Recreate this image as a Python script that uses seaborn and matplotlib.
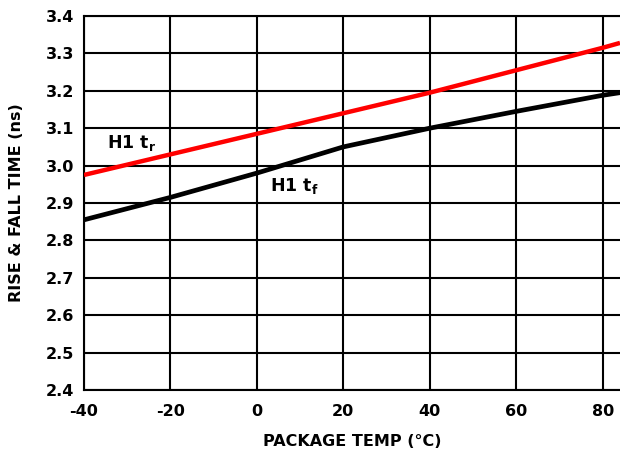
import numpy as np
import pandas as pd
import seaborn as sns
import matplotlib
matplotlib.use("Agg")
import matplotlib.pyplot as plt

# values
temp_rise = [-40, -20, 0, 20, 40, 60, 80, 84]
rise_ns = [2.975, 3.03, 3.085, 3.14, 3.195, 3.255, 3.315, 3.328]

temp_fall = [-40, -20, 0, 20, 40, 60, 80, 84]
fall_ns = [2.855, 2.915, 2.98, 3.05, 3.10, 3.145, 3.188, 3.195]

x_ticks = [-40, -20, 0, 20, 40, 60, 80]
y_ticks = [2.4, 2.5, 2.6, 2.7, 2.8, 2.9, 3.0, 3.1, 3.2, 3.3, 3.4]

sns.set_style("white")
plt.rcParams['font.family'] = ['DejaVu Sans']
plt.rcParams['mathtext.fontset'] = 'dejavusans'
plt.rcParams['text.color'] = 'black'
plt.rcParams['axes.labelcolor'] = 'black'
plt.rcParams['xtick.color'] = 'black'
plt.rcParams['ytick.color'] = 'black'

rise = pd.DataFrame({"temp": temp_rise, "t": rise_ns})
fall = pd.DataFrame({"temp": temp_fall, "t": fall_ns})

fig = plt.figure(figsize=(6.2, 4.49), dpi=100)
ax = fig.add_axes([0.1355, 0.1314, 0.8645, 0.833])

sns.lineplot(data=fall, x="temp", y="t", ax=ax, color="black", linewidth=3.4,
             solid_capstyle="butt", zorder=3)
sns.lineplot(data=rise, x="temp", y="t", ax=ax, color="#ff0000", linewidth=3.2,
             solid_capstyle="butt", zorder=4)

ax.set_xlim(-40, 84)
ax.set_ylim(2.4, 3.4)
ax.set_xticks(x_ticks)
ax.set_yticks(y_ticks)
ax.set_xticklabels([str(v) for v in x_ticks], fontsize=11.5, fontweight="bold")
ax.set_yticklabels([f"{v:.1f}" for v in y_ticks], fontsize=11.5, fontweight="bold")
ax.grid(True, color="black", linewidth=1.5)
ax.tick_params(axis="x", length=4, width=1.5, color="black", pad=6, direction="out")
ax.tick_params(axis="y", length=0, pad=7)

for side in ["left", "bottom", "top"]:
    ax.spines[side].set_color("black")
    ax.spines[side].set_linewidth(1.5)
ax.spines["right"].set_visible(False)

ax.set_xlabel("PACKAGE TEMP (°C)", fontsize=11.5, fontweight="bold", labelpad=11)
ax.set_ylabel("RISE & FALL TIME (ns)", fontsize=11.5, fontweight="bold", labelpad=16)

ax.text(-34.7, 3.06, r"H1 $\mathbf{t_r}$", fontsize=12.5, fontweight="bold", va="center")
ax.text(3, 2.945, r"H1 $\mathbf{t_f}$", fontsize=12.5, fontweight="bold", va="center")

fig.savefig("out.png", dpi=100)
